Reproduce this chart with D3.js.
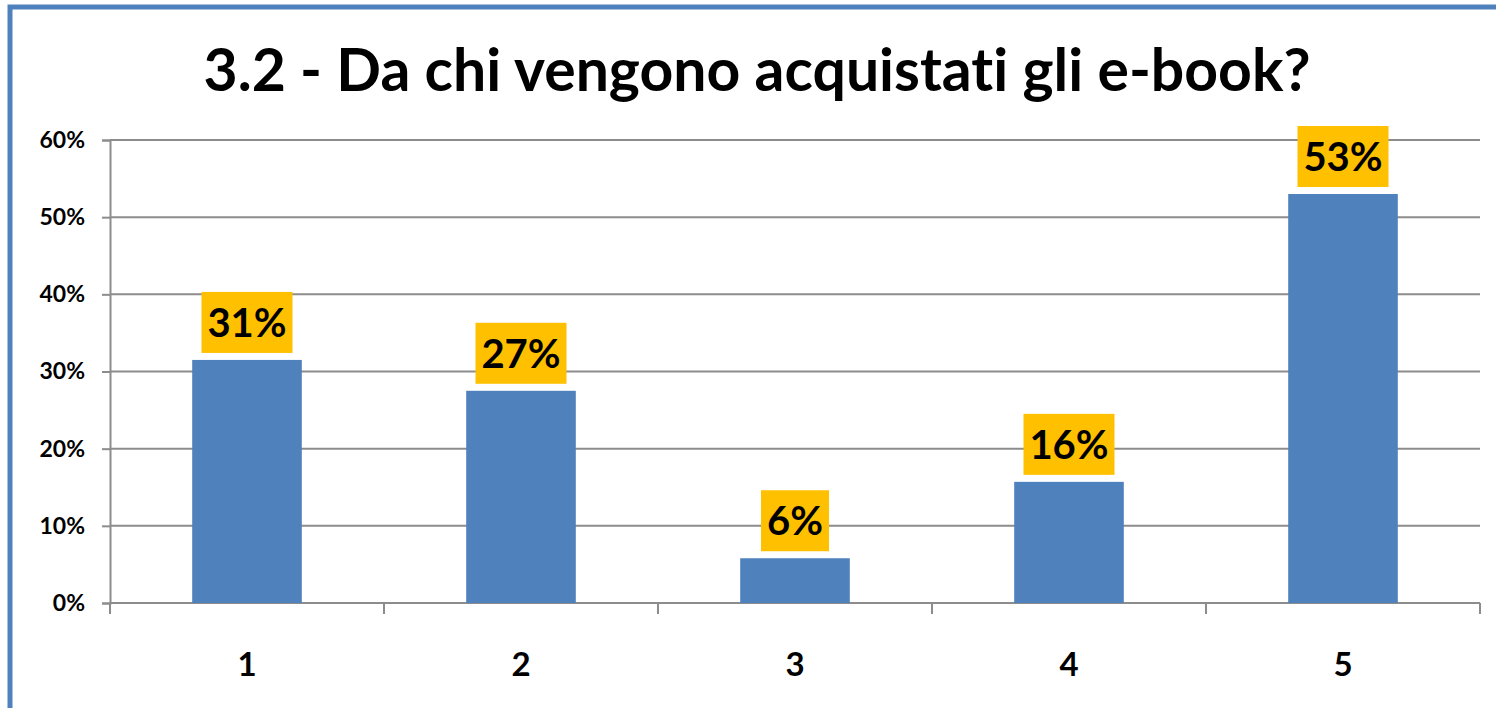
<!DOCTYPE html>
<html>
<head>
<meta charset="utf-8">
<script src="https://cdn.jsdelivr.net/npm/d3@7"></script>
<style>
  body { margin: 0; background: #fff; }
  text { font-family: Lato, "Open Sans", sans-serif; font-weight: bold; font-variant-ligatures: none; }
</style>
</head>
<body>
<div id="chart"></div>
<script>
// values
const categories = ["1", "2", "3", "4", "5"]
const values = [0.315, 0.275, 0.058, 0.157, 0.53]
const labels = ["31%", "27%", "6%", "16%", "53%"]
const yTicks = [0, 0.1, 0.2, 0.3, 0.4, 0.5, 0.6]
const title = "3.2 - Da chi vengono acquistati gli e-book?"

const W = 1496, H = 708
const svg = d3.select("#chart").append("svg").attr("width", W).attr("height", H)

// outer frame, only top and left show in the picture
svg.append("rect")
   .attr("x", 10).attr("y", 7).attr("width", 1500).attr("height", 720)
   .attr("fill", "none").attr("stroke", "#4f81bd").attr("stroke-width", 5)

const plotLeft = 110, plotRight = 1480, plotTop = 140, plotBottom = 603

const x = d3.scaleBand().domain(categories).range([plotLeft, plotRight]).paddingInner(0.6).paddingOuter(0.3)
const xOuter = d3.scaleBand().domain(categories).range([plotLeft, plotRight])
const y = d3.scaleLinear().domain([0, 0.6]).range([plotBottom, plotTop])

svg.append("text")
   .attr("x", 757).attr("y", 91)
   .attr("text-anchor", "middle")
   .attr("font-size", 60)
   .attr("textLength", 1107)
   .attr("lengthAdjust", "spacingAndGlyphs")
   .text(title)

// gridlines
svg.append("g").selectAll("line")
   .data(yTicks.slice(1))
   .join("line")
   .attr("x1", plotLeft).attr("x2", plotRight)
   .attr("y1", d => y(d)).attr("y2", d => y(d))
   .attr("stroke", "#8c8c8c").attr("stroke-width", 2)

// y axis
const yAxis = svg.append("g")
   .attr("transform", `translate(${plotLeft},0)`)
   .call(d3.axisLeft(y).tickValues(yTicks).tickFormat(d3.format(".0%")).tickSize(8).tickPadding(17))
yAxis.select(".domain").attr("stroke", "#8c8c8c").attr("stroke-width", 2)
yAxis.selectAll(".tick line").attr("stroke", "#8c8c8c").attr("stroke-width", 2)
yAxis.selectAll("text").attr("font-size", 23).attr("fill", "#000")

// x axis - ticks between categories
const xAxis = svg.append("g").attr("transform", `translate(0,${plotBottom})`)
xAxis.append("line").attr("x1", plotLeft).attr("x2", plotRight).attr("stroke", "#8c8c8c").attr("stroke-width", 2)
xAxis.selectAll(".sep")
   .data(categories.concat(["end"]))
   .join("line")
   .attr("class", "sep")
   .attr("x1", (d, i) => plotLeft + i * xOuter.step())
   .attr("x2", (d, i) => plotLeft + i * xOuter.step())
   .attr("y1", 0).attr("y2", 11)
   .attr("stroke", "#8c8c8c").attr("stroke-width", 2)
xAxis.selectAll(".lbl")
   .data(categories)
   .join("text")
   .attr("class", "lbl")
   .attr("x", d => xOuter(d) + xOuter.bandwidth() / 2)
   .attr("y", 73)
   .attr("text-anchor", "middle")
   .attr("font-size", 33)
   .text(d => d)

// bars
svg.append("g").selectAll("rect")
   .data(values)
   .join("rect")
   .attr("x", (d, i) => x(categories[i]))
   .attr("y", d => y(d))
   .attr("width", x.bandwidth())
   .attr("height", d => plotBottom - y(d))
   .attr("fill", "#4f81bd")

// data labels on orange boxes
const lab = svg.append("g").selectAll("g")
   .data(values)
   .join("g")
   .attr("transform", (d, i) => `translate(${x(categories[i]) + x.bandwidth() / 2},${y(d) - 7})`)
lab.append("rect")
   .attr("x", (d, i) => labels[i].length === 2 ? -34 : -45.5)
   .attr("width", (d, i) => labels[i].length === 2 ? 68 : 91)
   .attr("y", -61).attr("height", 61)
   .attr("fill", "#ffc000")
lab.append("text")
   .attr("y", -16)
   .attr("text-anchor", "middle")
   .attr("font-size", 40)
   .text((d, i) => labels[i])
</script>
</body>
</html>
